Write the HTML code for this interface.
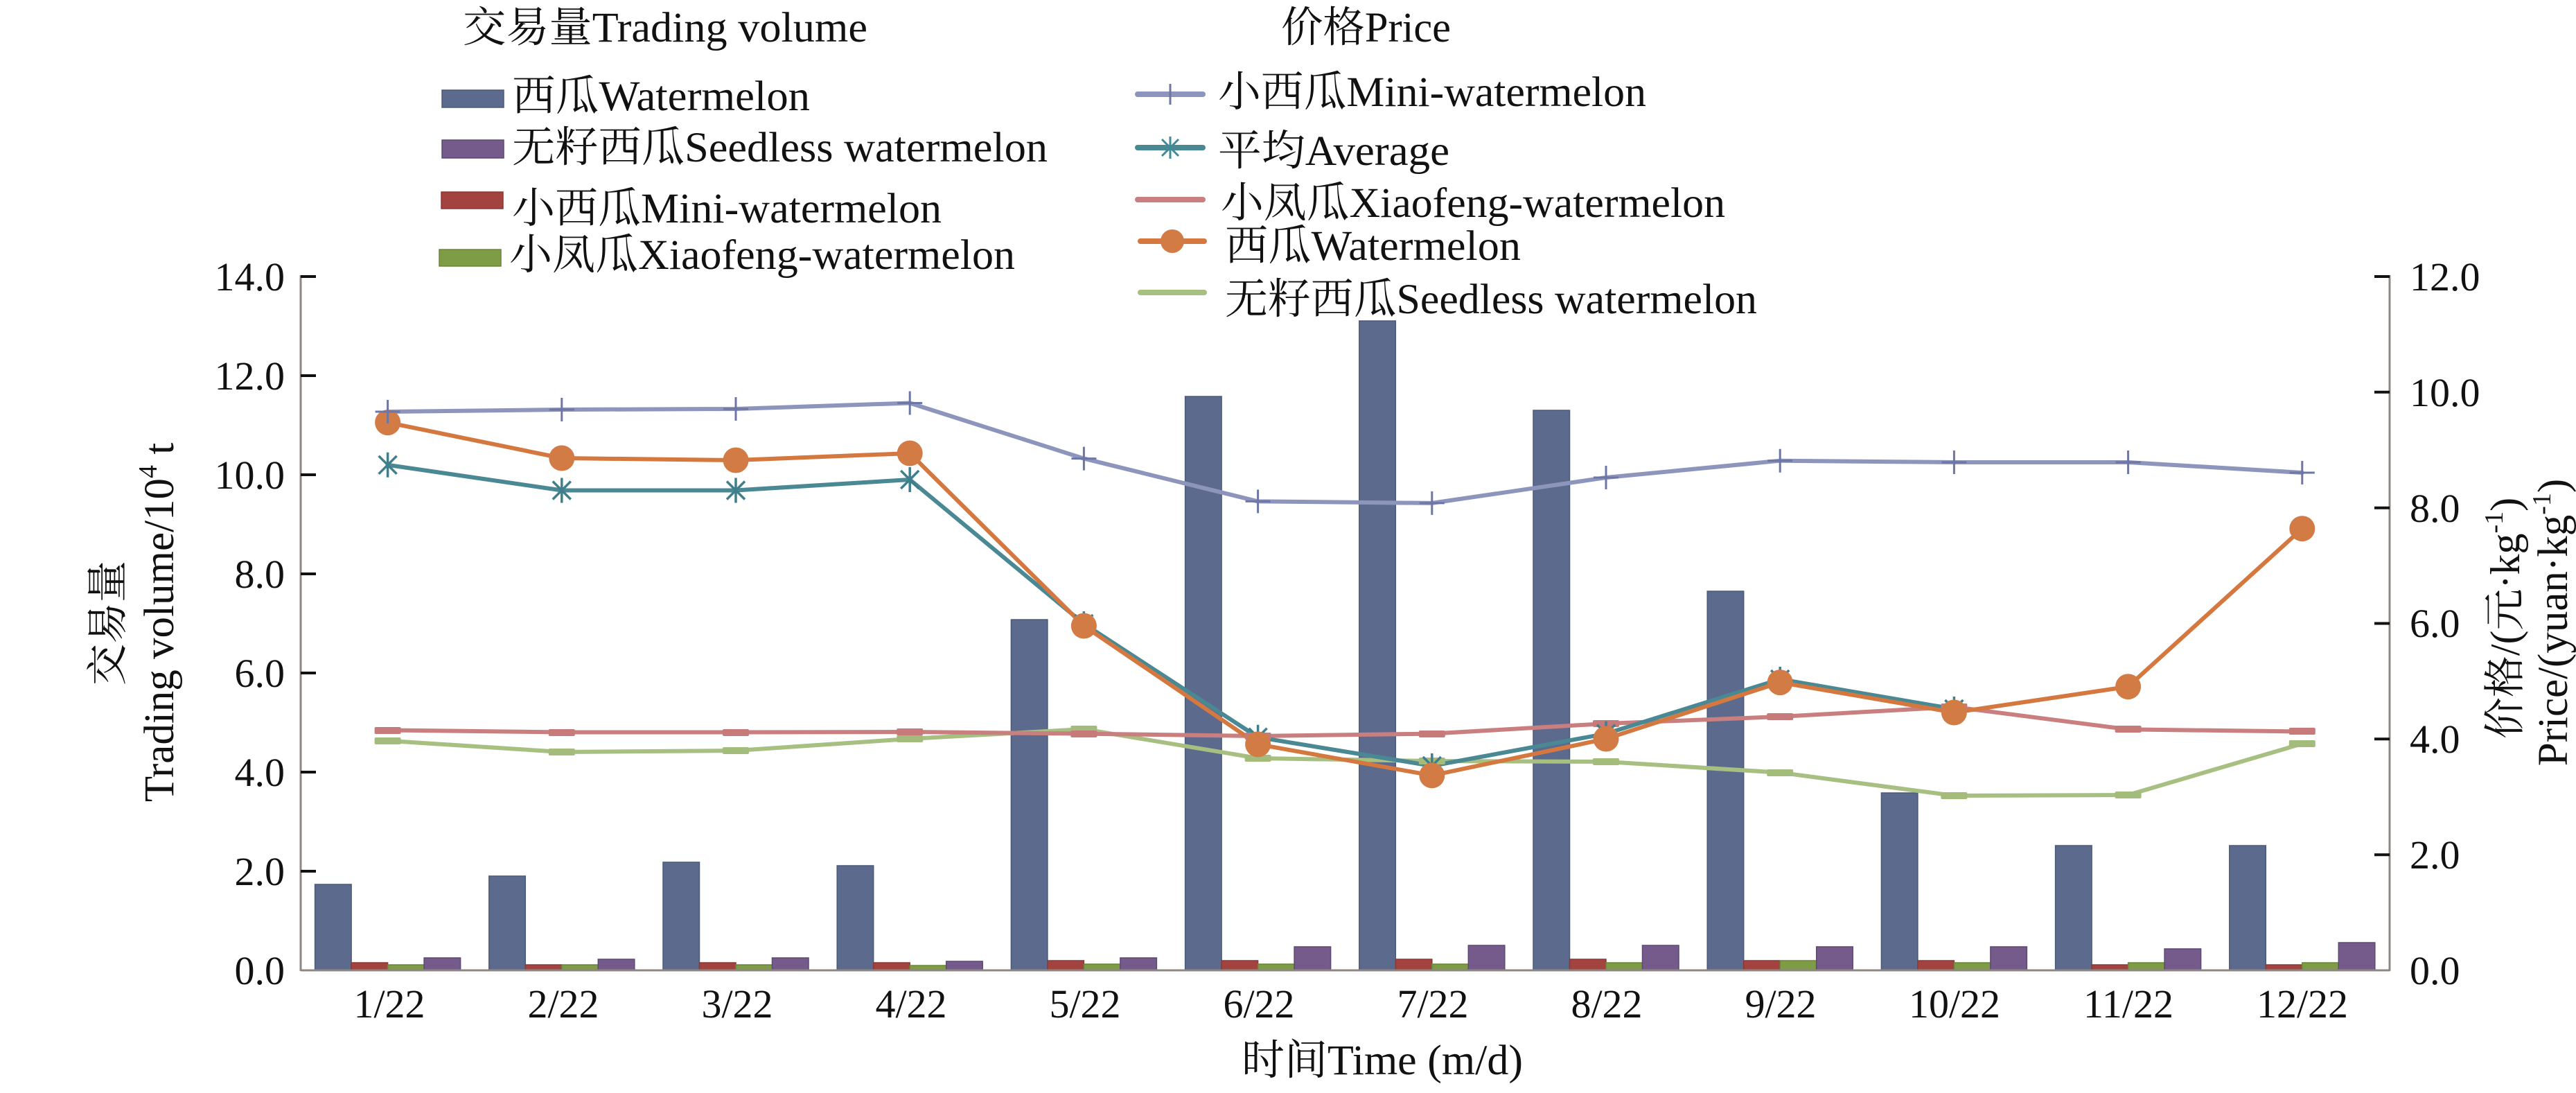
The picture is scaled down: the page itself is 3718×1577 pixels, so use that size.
<!DOCTYPE html>
<html><head><meta charset="utf-8"><style>
html,body{margin:0;padding:0;background:#fff;}
svg{display:block;}
text{font-family:"Liberation Serif","Noto Serif CJK SC",serif;fill:#111;}
</style></head><body>
<svg width="3718" height="1577" viewBox="0 0 3718 1577" xmlns="http://www.w3.org/2000/svg">
<rect width="3718" height="1577" fill="#fff"/>

<!-- Bars -->
<g stroke-width="1.5">
<g fill="#5b6a8d" stroke="#4c5a7a">
<rect x="454.6" y="1276" width="52.5" height="124"/>
<rect x="705.8" y="1264" width="52.5" height="136"/>
<rect x="957" y="1244" width="52.5" height="156"/>
<rect x="1208.2" y="1249" width="52.5" height="151"/>
<rect x="1459.4" y="894" width="52.5" height="506"/>
<rect x="1710.6" y="572" width="52.5" height="828"/>
<rect x="1961.8" y="463" width="52.5" height="937"/>
<rect x="2213" y="592" width="52.5" height="808"/>
<rect x="2464.2" y="853" width="52.5" height="547"/>
<rect x="2715.4" y="1144" width="52.5" height="256"/>
<rect x="2966.6" y="1220" width="52.5" height="180"/>
<rect x="3217.8" y="1220" width="52.5" height="180"/>
</g>
<g fill="#a3433f" stroke="#8c3835">
<rect x="507.1" y="1389" width="52.5" height="11"/>
<rect x="758.3" y="1392" width="52.5" height="8"/>
<rect x="1009.5" y="1389" width="52.5" height="11"/>
<rect x="1260.7" y="1389" width="52.5" height="11"/>
<rect x="1511.9" y="1386" width="52.5" height="14"/>
<rect x="1763.1" y="1386" width="52.5" height="14"/>
<rect x="2014.3" y="1384" width="52.5" height="16"/>
<rect x="2265.5" y="1384" width="52.5" height="16"/>
<rect x="2516.7" y="1386" width="52.5" height="14"/>
<rect x="2767.9" y="1386" width="52.5" height="14"/>
<rect x="3019.1" y="1392" width="52.5" height="8"/>
<rect x="3270.3" y="1392" width="52.5" height="8"/>
</g>
<g fill="#7e9b46" stroke="#6a853a">
<rect x="559.6" y="1392" width="52.5" height="8"/>
<rect x="810.8" y="1392" width="52.5" height="8"/>
<rect x="1062" y="1392" width="52.5" height="8"/>
<rect x="1313.2" y="1393" width="52.5" height="7"/>
<rect x="1564.4" y="1391" width="52.5" height="9"/>
<rect x="1815.6" y="1391" width="52.5" height="9"/>
<rect x="2066.8" y="1391" width="52.5" height="9"/>
<rect x="2318" y="1389" width="52.5" height="11"/>
<rect x="2569.2" y="1386" width="52.5" height="14"/>
<rect x="2820.4" y="1389" width="52.5" height="11"/>
<rect x="3071.6" y="1389" width="52.5" height="11"/>
<rect x="3322.8" y="1389" width="52.5" height="11"/>
</g>
<g fill="#755b8b" stroke="#5f4873">
<rect x="612.1" y="1382" width="52.5" height="18"/>
<rect x="863.3" y="1384" width="52.5" height="16"/>
<rect x="1114.5" y="1382" width="52.5" height="18"/>
<rect x="1365.7" y="1387" width="52.5" height="13"/>
<rect x="1616.9" y="1382" width="52.5" height="18"/>
<rect x="1868.1" y="1366" width="52.5" height="34"/>
<rect x="2119.3" y="1364" width="52.5" height="36"/>
<rect x="2370.5" y="1364" width="52.5" height="36"/>
<rect x="2621.7" y="1366" width="52.5" height="34"/>
<rect x="2872.9" y="1366" width="52.5" height="34"/>
<rect x="3124.1" y="1369" width="52.5" height="31"/>
<rect x="3375.3" y="1360" width="52.5" height="40"/>
</g>
</g>

<!-- Axes -->
<g stroke="#8c8782" stroke-width="3" fill="none">
<line x1="434" y1="397" x2="434" y2="1401"/>
<line x1="3449" y1="397" x2="3449" y2="1401"/>
<line x1="434" y1="1400" x2="3449" y2="1400"/>
</g>
<g stroke="#111" stroke-width="4">
<line x1="434" y1="399" x2="456" y2="399"/>
<line x1="434" y1="542" x2="456" y2="542"/>
<line x1="434" y1="685" x2="456" y2="685"/>
<line x1="434" y1="828" x2="456" y2="828"/>
<line x1="434" y1="971" x2="456" y2="971"/>
<line x1="434" y1="1114" x2="456" y2="1114"/>
<line x1="434" y1="1257" x2="456" y2="1257"/>
<line x1="3427" y1="399" x2="3449" y2="399"/>
<line x1="3427" y1="565.8" x2="3449" y2="565.8"/>
<line x1="3427" y1="732.7" x2="3449" y2="732.7"/>
<line x1="3427" y1="899.5" x2="3449" y2="899.5"/>
<line x1="3427" y1="1066.3" x2="3449" y2="1066.3"/>
<line x1="3427" y1="1233.2" x2="3449" y2="1233.2"/>
</g>

<!-- Lines -->
<g fill="none" stroke-width="6" stroke-linejoin="round" stroke-linecap="round">
<polyline stroke="#a7bf81" points="559.6,1068.8 810.8,1085 1062,1083 1313.2,1066 1564.4,1052 1815.6,1094 2066.8,1098 2318,1099 2569.2,1114.7 2820.4,1148 3071.6,1147 3322.8,1073"/>
<polyline stroke="#c97f7f" points="559.6,1053.5 810.8,1056.5 1062,1056.5 1313.2,1056 1564.4,1058.6 1815.6,1062 2066.8,1058.6 2318,1044 2569.2,1034 2820.4,1020 3071.6,1052.4 3322.8,1055.5"/>
<polyline stroke="#4a8894" points="559.6,670.8 810.8,707.5 1062,707.5 1313.2,692 1564.4,900 1815.6,1063.7 2066.8,1105 2318,1058.6 2569.2,980 2820.4,1023"/>
<polyline stroke="#d4783f" points="559.6,609.6 810.8,661 1062,664 1313.2,654 1564.4,903 1815.6,1073.9 2066.8,1118.8 2318,1066 2569.2,984.6 2820.4,1028 3071.6,990.7 3322.8,762.7"/>
<polyline stroke="#8d95bd" points="559.6,594 810.8,591 1062,590 1313.2,581.5 1564.4,661.6 1815.6,723.4 2066.8,725.9 2318,689 2569.2,664.7 2820.4,667 3071.6,667 3322.8,682"/>
</g>

<!-- Markers: seedless dashes -->
<g fill="#a3bc7c">
<rect x="540.6" y="1064" width="38" height="10" rx="2"/>
<rect x="791.8" y="1080" width="38" height="10" rx="2"/>
<rect x="1043" y="1078" width="38" height="10" rx="2"/>
<rect x="1294.2" y="1061" width="38" height="10" rx="2"/>
<rect x="1545.4" y="1047" width="38" height="10" rx="2"/>
<rect x="1796.6" y="1089" width="38" height="10" rx="2"/>
<rect x="2047.8" y="1093" width="38" height="10" rx="2"/>
<rect x="2299" y="1094" width="38" height="10" rx="2"/>
<rect x="2550.2" y="1110" width="38" height="10" rx="2"/>
<rect x="2801.4" y="1143" width="38" height="10" rx="2"/>
<rect x="3052.6" y="1142" width="38" height="10" rx="2"/>
<rect x="3303.8" y="1068" width="38" height="10" rx="2"/>
</g>
<g fill="#c67a7a">
<rect x="540.6" y="1049" width="38" height="10" rx="2"/>
<rect x="791.8" y="1052" width="38" height="10" rx="2"/>
<rect x="1043" y="1052" width="38" height="10" rx="2"/>
<rect x="1294.2" y="1051" width="38" height="10" rx="2"/>
<rect x="1545.4" y="1054" width="38" height="10" rx="2"/>
<rect x="1796.6" y="1057" width="38" height="10" rx="2"/>
<rect x="2047.8" y="1054" width="38" height="10" rx="2"/>
<rect x="2299" y="1039" width="38" height="10" rx="2"/>
<rect x="2550.2" y="1029" width="38" height="10" rx="2"/>
<rect x="2801.4" y="1015" width="38" height="10" rx="2"/>
<rect x="3052.6" y="1047" width="38" height="10" rx="2"/>
<rect x="3303.8" y="1050" width="38" height="10" rx="2"/>
</g>
<!-- Average asterisks -->
<g stroke="#3f7f8c" stroke-width="3.5" fill="none">
<path d="M559.6,652.8v36M546.6,657.8l26,26M572.6,657.8l-26,26"/>
<path d="M810.8,689.5v36M797.8,694.5l26,26M823.8,694.5l-26,26"/>
<path d="M1062,689.5v36M1049,694.5l26,26M1075,694.5l-26,26"/>
<path d="M1313.2,674v36M1300.2,679l26,26M1326.2,679l-26,26"/>
<path d="M1564.4,882v36M1551.4,887l26,26M1577.4,887l-26,26"/>
<path d="M1815.6,1045.7v36M1802.6,1050.7l26,26M1828.6,1050.7l-26,26"/>
<path d="M2066.8,1087v36M2053.8,1092l26,26M2079.8,1092l-26,26"/>
<path d="M2318,1040.6v36M2305,1045.6l26,26M2331,1045.6l-26,26"/>
<path d="M2569.2,962v36M2556.2,967l26,26M2582.2,967l-26,26"/>
<path d="M2820.4,1005v36M2807.4,1010l26,26M2833.4,1010l-26,26"/>
</g>
<!-- Watermelon circles -->
<g fill="#d27b45">
<circle cx="559.6" cy="609.6" r="18.5"/>
<circle cx="810.8" cy="661" r="18.5"/>
<circle cx="1062" cy="664" r="18.5"/>
<circle cx="1313.2" cy="654" r="18.5"/>
<circle cx="1564.4" cy="903" r="18.5"/>
<circle cx="1815.6" cy="1073.9" r="18.5"/>
<circle cx="2066.8" cy="1118.8" r="18.5"/>
<circle cx="2318" cy="1066" r="18.5"/>
<circle cx="2569.2" cy="984.6" r="18.5"/>
<circle cx="2820.4" cy="1028" r="18.5"/>
<circle cx="3071.6" cy="990.7" r="18.5"/>
<circle cx="3322.8" cy="762.7" r="18.5"/>
</g>
<!-- Mini plus -->
<g stroke="#6d76a5" stroke-width="3" fill="none">
<path d="M559.6,577v34M541.6,594h36"/>
<path d="M810.8,574v34M792.8,591h36"/>
<path d="M1062,573v34M1044,590h36"/>
<path d="M1313.2,564.5v34M1295.2,581.5h36"/>
<path d="M1564.4,644.6v34M1546.4,661.6h36"/>
<path d="M1815.6,706.4v34M1797.6,723.4h36"/>
<path d="M2066.8,708.9v34M2048.8,725.9h36"/>
<path d="M2318,672v34M2300,689h36"/>
<path d="M2569.2,647.7v34M2551.2,664.7h36"/>
<path d="M2820.4,650v34M2802.4,667h36"/>
<path d="M3071.6,650v34M3053.6,667h36"/>
<path d="M3322.8,665v34M3304.8,682h36"/>
</g>

<!-- Tick labels -->
<g font-size="58" text-anchor="end">
<text x="411" y="419">14.0</text>
<text x="411" y="562">12.0</text>
<text x="411" y="705">10.0</text>
<text x="411" y="848">8.0</text>
<text x="411" y="991">6.0</text>
<text x="411" y="1134">4.0</text>
<text x="411" y="1277">2.0</text>
<text x="411" y="1420">0.0</text>
</g>
<g font-size="58">
<text x="3478" y="419">12.0</text>
<text x="3478" y="586">10.0</text>
<text x="3478" y="753">8.0</text>
<text x="3478" y="919">6.0</text>
<text x="3478" y="1086">4.0</text>
<text x="3478" y="1253">2.0</text>
<text x="3478" y="1420">0.0</text>
</g>
<g font-size="58" text-anchor="middle">
<text x="562" y="1468">1/22</text>
<text x="813" y="1468">2/22</text>
<text x="1064" y="1468">3/22</text>
<text x="1315" y="1468">4/22</text>
<text x="1566" y="1468">5/22</text>
<text x="1817" y="1468">6/22</text>
<text x="2068" y="1468">7/22</text>
<text x="2319" y="1468">8/22</text>
<text x="2570" y="1468">9/22</text>
<text x="2821" y="1468">10/22</text>
<text x="3072" y="1468">11/22</text>
<text x="3323" y="1468">12/22</text>
</g>

<!-- Axis titles -->
<text x="1792" y="1550" font-size="61" textLength="406" lengthAdjust="spacingAndGlyphs">时间Time (m/d)</text>
<text transform="translate(176,899) rotate(-90)" font-size="60" text-anchor="middle">交易量</text>
<text transform="translate(250,898) rotate(-90)" font-size="61" text-anchor="middle">Trading volume/10<tspan font-size="38" dy="-24">4</tspan><tspan dy="24"> t</tspan></text>
<text transform="translate(3636,892) rotate(-90)" font-size="60" text-anchor="middle">价格/(元·kg<tspan font-size="38" dy="-24">-1</tspan><tspan dy="24">)</tspan></text>
<text transform="translate(3705,898) rotate(-90)" font-size="61" text-anchor="middle">Price/(yuan·kg<tspan font-size="38" dy="-24">-1</tspan><tspan dy="24">)</tspan></text>

<!-- Left legend -->
<text x="668" y="60" font-size="61" textLength="584" lengthAdjust="spacingAndGlyphs">交易量Trading volume</text>
<rect x="638" y="130" width="89" height="25" fill="#5b6a8d" stroke="#4c5a7a" stroke-width="1.5"/>
<text x="739" y="159" font-size="61" textLength="430" lengthAdjust="spacingAndGlyphs">西瓜Watermelon</text>
<rect x="638" y="202" width="89" height="26" fill="#755b8b" stroke="#5f4873" stroke-width="1.5"/>
<text x="739" y="233" font-size="61" textLength="773" lengthAdjust="spacingAndGlyphs">无籽西瓜Seedless watermelon</text>
<rect x="637" y="277" width="89" height="24" fill="#a3433f" stroke="#8c3835" stroke-width="1.5"/>
<text x="739" y="321" font-size="61" textLength="620" lengthAdjust="spacingAndGlyphs">小西瓜Mini-watermelon</text>
<rect x="634" y="360" width="89" height="24" fill="#7e9b46" stroke="#6a853a" stroke-width="1.5"/>
<text x="735" y="388" font-size="61" textLength="730" lengthAdjust="spacingAndGlyphs">小凤瓜Xiaofeng-watermelon</text>

<!-- Right legend -->
<text x="1849" y="60" font-size="61" textLength="245" lengthAdjust="spacingAndGlyphs">价格Price</text>
<g fill="none" stroke-linecap="round" stroke-width="8">
<line x1="1642" y1="136" x2="1736" y2="136" stroke="#8d95bd"/>
<line x1="1642" y1="213" x2="1736" y2="213" stroke="#4a8894"/>
<line x1="1642" y1="288" x2="1736" y2="288" stroke="#c97f7f"/>
<line x1="1646" y1="348" x2="1738" y2="348" stroke="#d4783f"/>
<line x1="1646" y1="422" x2="1738" y2="422" stroke="#a7bf81"/>
</g>
<path d="M1689,121v30" stroke="#6d76a5" stroke-width="3"/>
<path d="M1689,197v32M1677,201l24,24M1701,201l-24,24" stroke="#3f8a97" stroke-width="3" fill="none"/>
<circle cx="1692" cy="348" r="17" fill="#d27b45"/>
<text x="1758" y="153" font-size="61" textLength="618" lengthAdjust="spacingAndGlyphs">小西瓜Mini-watermelon</text>
<text x="1758" y="238" font-size="61" textLength="334" lengthAdjust="spacingAndGlyphs">平均Average</text>
<text x="1762" y="313" font-size="61" textLength="728" lengthAdjust="spacingAndGlyphs">小凤瓜Xiaofeng-watermelon</text>
<text x="1768" y="375" font-size="61" textLength="427" lengthAdjust="spacingAndGlyphs">西瓜Watermelon</text>
<text x="1768" y="452" font-size="61" textLength="768" lengthAdjust="spacingAndGlyphs">无籽西瓜Seedless watermelon</text>
</svg>
</body></html>
